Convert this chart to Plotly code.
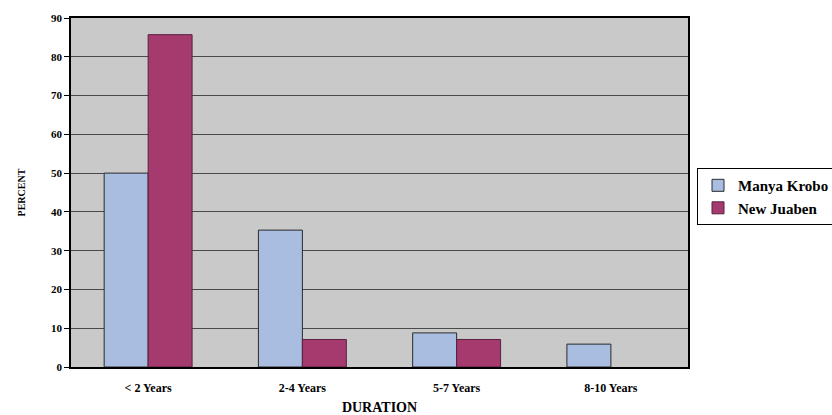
import plotly.graph_objects as go

# Duration categories and percent of respondents per district
categories = ["< 2 Years", "2-4 Years", "5-7 Years", "8-10 Years"]
manya_krobo = [50.0, 35.3, 8.8, 5.9]
new_juaben = [85.7, 7.1, 7.1, 0.0]
y_ticks = [0, 10, 20, 30, 40, 50, 60, 70, 80, 90]

serif = "Liberation Serif"

fig = go.Figure()
fig.add_trace(go.Bar(
    name="<b>Manya Krobo</b>", x=categories, y=manya_krobo,
    marker=dict(color="#a9bde0", line=dict(color="#2a2a2a", width=1)),
))
fig.add_trace(go.Bar(
    name="<b>New Juaben</b>", x=categories, y=new_juaben,
    marker=dict(color="#a43a6e",
                line=dict(color="#5a2040", width=[1 if v > 0 else 0 for v in new_juaben])),
))

fig.update_layout(
    width=832, height=415,
    margin=dict(l=71, r=144, t=18, b=48, autoexpand=False),
    paper_bgcolor="white",
    plot_bgcolor="#c9c9c9",
    barmode="group",
    bargap=0.43,
    bargroupgap=0.0,
    font=dict(family=serif, color="black"),
    legend=dict(
        x=1.0146, y=0.57, xanchor="left", yanchor="top",
        bgcolor="white", bordercolor="black", borderwidth=1,
        font=dict(family=serif, size=15, color="black"),
        tracegroupgap=0, itemwidth=30,
    ),
    xaxis=dict(
        showline=True, linecolor="black", linewidth=1.5, mirror=True,
        tickvals=categories, ticktext=["<b>%s</b>" % c for c in categories],
        tickfont=dict(family=serif, size=12, color="black"),
        ticklabelstandoff=9,
        title=dict(text="<b>DURATION</b>", font=dict(family=serif, size=14), standoff=10),
        showgrid=False,
    ),
    yaxis=dict(
        range=[0, 90], tickvals=y_ticks, ticktext=["<b>%d</b>" % t for t in y_ticks],
        showline=True, linecolor="black", linewidth=1.5, mirror=True,
        ticks="outside", ticklen=5, tickcolor="black",
        tickfont=dict(family=serif, size=11, color="black"),
        showgrid=True, gridcolor="#4a4a4a", gridwidth=1,
        title=dict(text="<b>PERCENT</b>", font=dict(family=serif, size=10), standoff=24),
        zeroline=False,
    ),
)

fig.write_html("out.html")
